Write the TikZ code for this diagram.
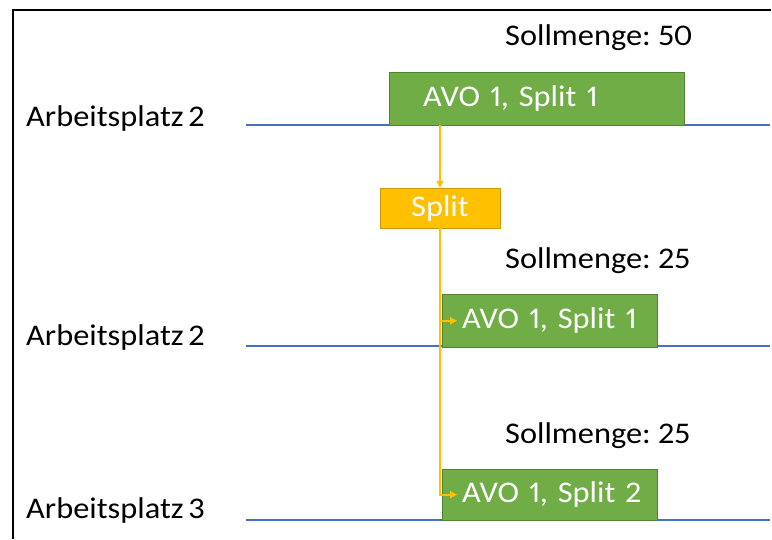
\documentclass[tikz,border=0pt]{standalone}
\usepackage{fontspec}
\setmainfont{Carlito}[FakeStretch=1.08, WordSpace=0.7, Numbers=Proportional]
\usetikzlibrary{arrows.meta,positioning}
\definecolor{cAvo}{HTML}{70AD47}
\definecolor{cAvoEdge}{HTML}{548235}
\definecolor{cSplit}{HTML}{FFC000}
\definecolor{cSplitEdge}{HTML}{C99A06}
\definecolor{cLane}{HTML}{4472C4}
\tikzset{
  avoblk/.style={draw=cAvoEdge, fill=cAvo, text=white, anchor=north west,
                 minimum height=53pt, inner sep=0pt, align=left},
  splitblk/.style={draw=cSplitEdge, fill=cSplit, text=white,
                   minimum width=120pt, minimum height=40pt, inner sep=0pt},
  lane/.style={cLane, line width=1.6pt},
  lbl/.style={anchor=base west, inner sep=0pt},
  arr/.style={-{Triangle[length=7pt,width=7pt]}, cSplit, line width=1.6pt}
}

\begin{document}
\begin{tikzpicture}[x=1pt, y=-1pt, font=\fontsize{30}{36}\selectfont]
\useasboundingbox (0,0) rectangle (772,539);
% frame (left and top edge only)
\draw[line width=2pt] (12.5,539) -- (12.5,10) -- (771,10);
% work station lanes
\draw[lane] (246,125) -- (770,125);
\draw[lane] (246,346) -- (770,346);
\draw[lane] (246,520) -- (770,520);
\node[lbl] (apA) at (26,126) {Arbeitsplatz 2};
\node[lbl] (apB) at (26,345) {Arbeitsplatz 2};
\node[lbl] (apC) at (26,518) {Arbeitsplatz 3};
% target quantities
\node[lbl] (qtyA) at (505,45) {Sollmenge: 50};
\node[lbl] (qtyB) at (505,268) {Sollmenge: 25};
\node[lbl] (qtyC) at (505,443) {Sollmenge: 25};
% operations (text padded in from the left edge)
\node[avoblk, text width=295pt] (avoA) at (389,72)
  {\hspace*{34pt}AVO 1, Split 1};
\node[splitblk] (split) at (440,208) {Split};
\node[avoblk, text width=215pt] (avoB) at (442,294)
  {\hspace*{20pt}AVO 1, Split 1};
\node[avoblk, text width=215pt, minimum height=51pt] (avoC) at (442,469)
  {\hspace*{20pt}AVO 1, Split 2};
% split flow
\draw[arr] (split.north |- avoA.south) -- (split.north);
\draw[arr] (split.south) |- ([xshift=15pt]avoB.west);
\draw[arr] (split.south) |- ([xshift=15pt]avoC.west);
\end{tikzpicture}
\end{document}
